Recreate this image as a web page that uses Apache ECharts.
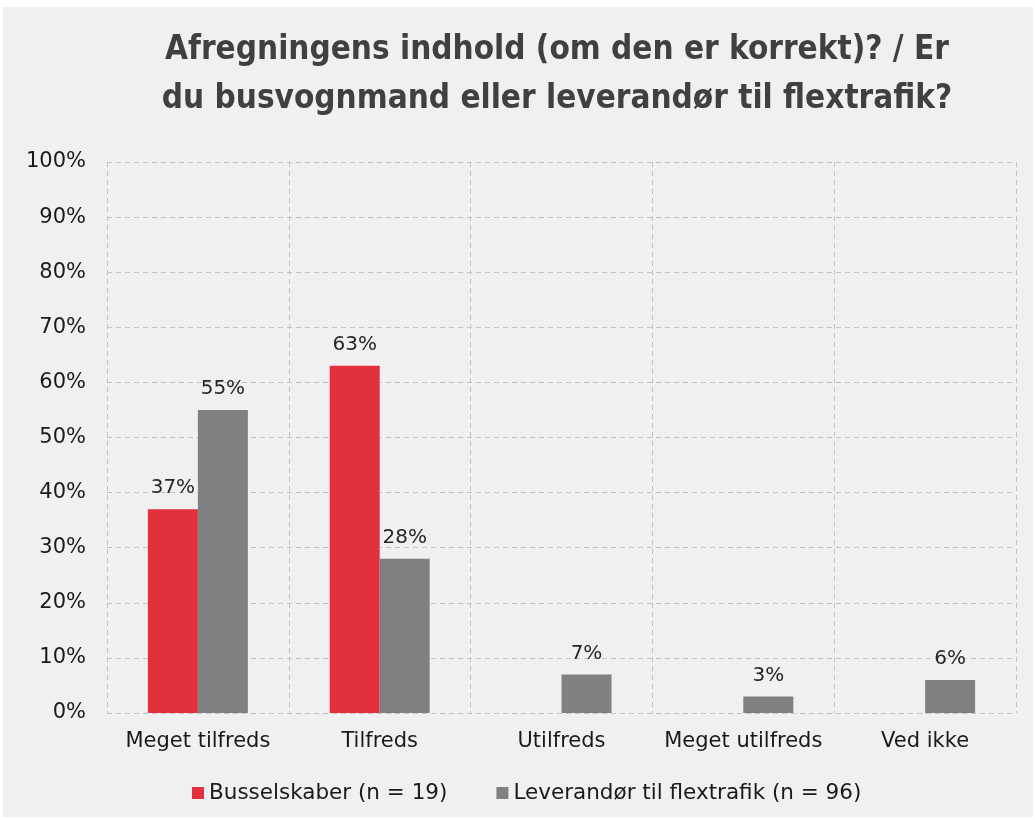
<!DOCTYPE html>
<html><head><meta charset="utf-8">
<script src="https://cdn.jsdelivr.net/npm/echarts@6/dist/echarts.min.js"></script>
<style>
html,body{margin:0;padding:0;background:#ffffff;}
#c{position:absolute;left:3px;top:7px;width:1030px;height:810px;background:#f0f0f0;}
</style></head>
<body><div id="c"></div>
<script>
const titleText = 'Afregningens indhold (om den er korrekt)? / Er\ndu busvognmand eller leverandør til flextrafik?';
const categories = ['Meget tilfreds', 'Tilfreds', 'Utilfreds', 'Meget utilfreds', 'Ved ikke'];
const seriesNames = ['Busselskaber (n = 19)', 'Leverandør til flextrafik (n = 96)'];
const busselskaber = [37, 63, 0, 0, 0];
const leverandor = [55, 28, 7, 3, 6];
const yTicks = [0, 10, 20, 30, 40, 50, 60, 70, 80, 90, 100];

const chart = echarts.init(document.getElementById('c'));
const font = 'DejaVu Sans';
const labelCfg = {
  show: true, position: 'top', distance: 11, color: '#262626',
  fontFamily: font, fontSize: 20,
  formatter: p => p.value > 0 ? p.value + '%' : ''
};
chart.setOption({
  backgroundColor: '#f0f0f0',
  animation: false,
  title: {
    text: titleText, left: 549, top: 14, textAlign: 'center',
    textStyle: { fontFamily: 'DejaVu Sans Condensed', fontWeight: 'bold', fontSize: 33, color: '#404040', lineHeight: 49 }
  },
  legend: {
    bottom: 8, left: 184, itemWidth: 12, itemHeight: 12, itemGap: 49,
    icon: 'rect',
    textStyle: { fontFamily: font, fontSize: 21.5, color: '#1a1a1a' },
    data: seriesNames
  },
  grid: { left: 104, right: 17, top: 155, bottom: 104, containLabel: false },
  xAxis: {
    type: 'category', data: categories,
    axisLine: { show: false },
    axisTick: { show: false },
    axisLabel: { interval: 0, hideOverlap: false, fontFamily: font, fontSize: 21, color: '#1a1a1a', margin: 18 },
    splitLine: { show: true, interval: 0, lineStyle: { type: [5, 4], color: '#c4c4c4', width: 1 } }
  },
  yAxis: {
    type: 'value', min: 0, max: 100, interval: 10,
    axisLine: { show: false }, axisTick: { show: false },
    axisLabel: { fontFamily: font, fontSize: 21, color: '#1a1a1a', margin: 21,
      formatter: v => yTicks.includes(v) ? v + '%' : '' },
    splitLine: { lineStyle: { type: [5, 4], color: '#c4c4c4', width: 1 } }
  },
  series: [
    { name: seriesNames[0], type: 'bar', data: busselskaber, barWidth: 50, barGap: '0%',
      itemStyle: { color: '#e2303c' }, label: labelCfg },
    { name: seriesNames[1], type: 'bar', data: leverandor, barWidth: 50,
      itemStyle: { color: '#808083' }, label: labelCfg }
  ]
});
</script></body></html>
